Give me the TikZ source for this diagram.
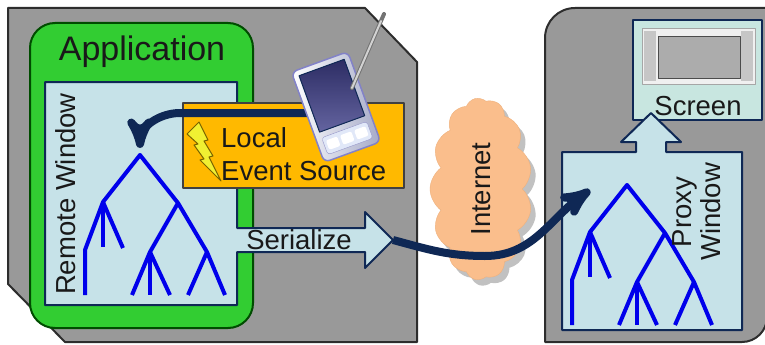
\documentclass[tikz,border=0pt]{standalone}
\usepackage{fontspec}
\setmainfont{Liberation Sans}
\usetikzlibrary{arrows, positioning, shapes.symbols, shadows}

\definecolor{panelgray}{RGB}{153,153,153}
\definecolor{edgegray}{RGB}{45,45,45}
\definecolor{appgreen}{RGB}{50,205,50}
\definecolor{wincyan}{RGB}{198,226,232}
\definecolor{screencyan}{RGB}{200,230,224}
\definecolor{navy}{RGB}{15,40,85}
\definecolor{eventorange}{RGB}{255,185,0}
\definecolor{treeblue}{RGB}{0,0,235}
\definecolor{netpeach}{RGB}{250,190,140}
\definecolor{boltyellow}{RGB}{240,240,50}
\definecolor{boltedge}{RGB}{120,100,0}

\begin{document}
\begin{tikzpicture}[x=1pt, y=-1pt, >=stealth', line join=round,
    nodetree/.pic={
        \draw[branch] (-55,140) -- (-55,95) -- (-37,47) -- (0,0) -- (38,48) -- (67,97) -- (85,140);
        \draw[branch] (-37,47) -- (-37,92);
        \draw[branch] (-37,47) -- (-17,93);
        \draw[branch] (38,48) -- (10,97) -- (-8,140);
        \draw[branch] (10,97) -- (10,140);
        \draw[branch] (10,97) -- (30,140);
        \draw[branch] (67,97) -- (48,140);
    }]
    \tikzstyle{txt} = [font=\fontsize{27.5}{31}\selectfont, inner sep=0pt, text=black!90]
    \tikzstyle{panel} = [fill=panelgray, draw=edgegray, line width=2pt]
    \tikzstyle{window} = [fill=wincyan, draw=navy, line width=2pt]
    \tikzstyle{branch} = [draw=treeblue, line width=4pt]
    \tikzstyle{flow} = [draw=navy, line width=8pt]
    \useasboundingbox (0,0) rectangle (765,345);

    % the two machines
    \draw[panel] (8,8) -- (365,8) -- (417,62) -- (417,342) -- (65,342) -- (8,284) -- cycle;
    \draw[panel] (545,342) -- (545,38) .. controls (545,21.4) and (558.4,8) .. (575,8) -- (767,8)
        -- (767,317) .. controls (767,330.8) and (755.8,342) .. (742,342) -- cycle;

    % application side
    \draw[fill=appgreen, draw=black!70!green, line width=2pt, rounded corners=25pt] (30,23) rectangle (253,328);
    \node[txt, font=\fontsize{34}{40}\selectfont] (app) at (142,52) {Application};
    \draw[window] (45,82) -- (237,82) -- (237,228) -- (365,228) -- (365,212) -- (393,240)
        -- (365,268) -- (365,252) -- (237,252) -- (237,305) -- (45,305) -- cycle;
    \node[txt, rotate=90] (remote) at (66,194) {Remote Window};
    \node[txt] (serialize) at (299,240) {Serialize};
    \coordinate (sertip) at (393,240);
    \coordinate (rroot) at (140,155);
    \pic at (rroot) {nodetree};

    \draw[fill=eventorange, draw=black!75, line width=1.5pt] (183,103) rectangle (404,188);
    \draw[fill=boltyellow, draw=boltedge, line width=1pt] (199,122) -- (208,140) -- (204,141) -- (213,156)
        -- (209,157) -- (221,181) -- (200,160) -- (204,159) -- (194,145) -- (198,144) -- (187,134) -- cycle;
    \node[txt, align=left, anchor=north west, font=\fontsize{27.5}{33}\selectfont] (event) at (221,127) {Local\\Event Source};

    \coordinate (pda) at (336,107);
    \coordinate (evsrc) at (310,113);
    \coordinate (evbend) at (180,113);
    \draw[flow, ->] (evsrc) -- (evbend) to[out=180, in=90] ([yshift=7pt]rroot);

    % handheld with its stylus
    \begin{scope}[shift={(pda)}, rotate=20]
        \draw[rounded corners=6pt, left color=white, right color={rgb,255:red,165;green,170;blue,200},
            draw={rgb,255:red,130;green,130;blue,200}, line width=1.5pt] (-30,-48) rectangle (30,48);
        \draw[top color={rgb,255:red,45;green,45;blue,100}, bottom color={rgb,255:red,100;green,100;blue,160},
            draw=navy, line width=1pt] (-24,-42) rectangle (24,18);
        \draw[fill={rgb,255:red,225;green,232;blue,248}, draw={rgb,255:red,150;green,150;blue,200},
            rounded corners=3pt] (-24,24) rectangle (24,42);
        \foreach \bx in {-15,0,15}
            \fill[white, rounded corners=2pt] (\bx-6,28) rectangle (\bx+6,38);
    \end{scope}
    \draw[black!55, line width=4pt, line cap=round] (352,88) -- (384,14);
    \draw[gray!35, line width=2pt, line cap=round] (352,88) -- (381,21);

    % network
    \node[txt, cloud, cloud puffs=13, cloud puff arc=110, aspect=1.8, rotate=90,
        minimum width=182pt, minimum height=102pt, fill=netpeach, draw=netpeach!80!brown,
        drop shadow={shadow xshift=5pt, shadow yshift=-6pt, fill=gray!70, opacity=.7}] (net) at (481,189) {Internet};

    % display side
    \draw[window, fill=screencyan] (633,20) rectangle (762,120);
    \draw[fill=gray!12, draw=gray!70] (642,28) rectangle (755,84);
    \fill[gray!45] (644,31) rectangle (656,81);
    \fill[gray!45] (741,31) rectangle (753,81);
    \draw[fill=gray!65, draw=black!70, line width=1pt] (658,37) rectangle (740,78);
    \node[txt] (screen) at (698,106) {Screen};

    \draw[window] (562,152) -- (636,152) -- (636,142) -- (621,142) -- (651,113) -- (681,142)
        -- (666,142) -- (666,152) -- (742,152) -- (742,330) -- (562,330) -- cycle;
    \coordinate (proot) at (627,185);
    \pic at (proot) {nodetree};
    \node[txt, rotate=90, align=center, font=\fontsize{27.5}{29}\selectfont] (proxy) at (697,212) {Proxy\\Window};

    \coordinate (dip) at (485,256);
    \coordinate (proxyhit) at (590,190);
    \draw[flow, ->] (sertip) to[out=-15, in=180] (dip) to[out=0, in=215] (proxyhit);
\end{tikzpicture}
\end{document}
